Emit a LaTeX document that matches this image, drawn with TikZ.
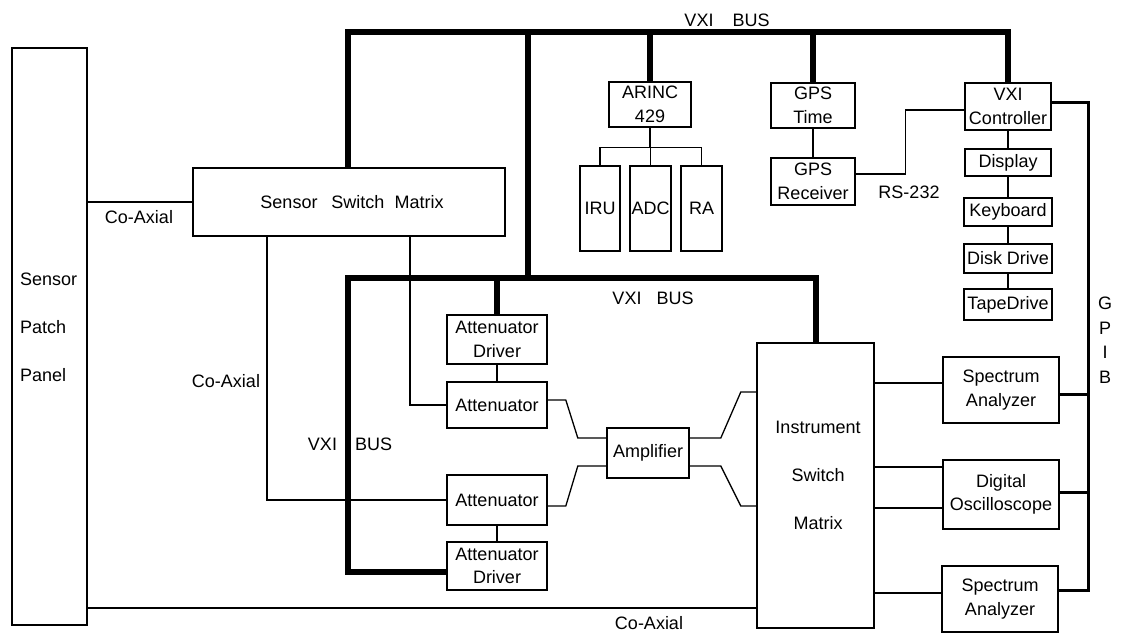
\documentclass[tikz,border=0pt]{standalone}
\usepackage{fontspec}
\setmainfont{Liberation Sans}
\newcommand\dfs{\fontsize{18}{23.5}\selectfont}
\begin{document}
\begin{tikzpicture}[x=1pt,y=-1pt,
  box/.style={draw, line width=1.6pt, inner sep=0pt, align=center, font=\dfs},
  thin/.style={line width=1.3pt},
  bus/.style={line width=6pt},
  gpib/.style={line width=3pt},
  lbl/.style={inner sep=0pt, font=\dfs, align=center}]
\useasboundingbox (0,0) rectangle (1121,634);

% boxes
\node[box, minimum width=75pt, minimum height=577pt] (panel) at (49.5,336.5) {};
\node[lbl, anchor=west, align=left, font=\fontsize{18}{48}\selectfont] (paneltext) at (20,327) {Sensor\\Patch\\Panel};
\node[box, minimum width=312pt, minimum height=68pt] (ssm) at (349,202) {\hspace*{6pt}Sensor\hspace{14pt}Switch\hspace{10pt}Matrix};
\node[box, minimum width=82pt, minimum height=45pt] (arinc) at (650,104.5) {ARINC\\429};
\node[box, minimum width=40pt, minimum height=85pt] (iru) at (600,208.5) {IRU};
\node[box, minimum width=41pt, minimum height=85pt] (adc) at (650.5,208.5) {ADC};
\node[box, minimum width=41pt, minimum height=85pt] (ra) at (701.5,208.5) {RA};
\node[box, minimum width=84pt, minimum height=45pt] (gpst) at (813,105.5) {GPS\\Time};
\node[box, minimum width=84pt, minimum height=47pt] (gpsr) at (813,181.5) {GPS\\Receiver};
\node[box, minimum width=86pt, minimum height=47pt] (vxic) at (1008,106.5) {VXI\\Controller};
\node[box, minimum width=86pt, minimum height=27pt] (disp) at (1008,162.5) {Display};
\node[box, minimum width=88pt, minimum height=28pt] (kb) at (1008,212) {Keyboard};
\node[box, minimum width=88pt, minimum height=29pt] (disk) at (1008,258.5) {Disk Drive};
\node[box, minimum width=88pt, minimum height=31pt] (tape) at (1008,304.5) {TapeDrive};
\node[box, minimum width=100pt, minimum height=49pt] (ad1) at (497,339.5) {Attenuator\\Driver};
\node[box, minimum width=100pt, minimum height=46pt] (att1) at (497,405) {Attenuator};
\node[box, minimum width=100pt, minimum height=50pt] (att2) at (497,500) {Attenuator};
\node[box, minimum width=100pt, minimum height=48pt] (ad2) at (497,566) {Attenuator\\Driver};
\node[box, minimum width=82pt, minimum height=50pt] (amp) at (648,453) {Amplifier};
\node[box, minimum width=117pt, minimum height=285pt] (ism) at (815.5,485.5) {};
\node[lbl, font=\fontsize{18}{48}\selectfont] (ismtext) at (818,475) {Instrument\\Switch\\Matrix};
\node[box, minimum width=116pt, minimum height=66pt] (sa1) at (1001,390) {Spectrum\\Analyzer};
\node[box, minimum width=116pt, minimum height=69pt] (dso) at (1001,494.5) {Digital\\Oscilloscope};
\node[box, minimum width=116pt, minimum height=66pt] (sa2) at (1000,599) {Spectrum\\Analyzer};

% labels
\node[lbl] (lvxitop) at (727,20) {VXI\hspace{19pt}BUS};
\node[lbl] (lvxiin) at (653,298) {VXI\hspace{15pt}BUS};
\node[lbl] (lvxiv) at (350,444) {VXI\hspace{18pt}BUS};
\node[lbl] (lcoax1) at (139,217) {Co-Axial};
\node[lbl] (lcoax2) at (226,381) {Co-Axial};
\node[lbl] (lcoax3) at (649,623) {Co-Axial};
\node[lbl] (lrs) at (909,192) {RS-232};
\node[lbl, font=\fontsize{18}{24.5}\selectfont] (lgpib) at (1105,340) {G\\P\\I\\B};

% bus coordinates
\coordinate (tb) at (528,32);
\coordinate (ib) at (348,278);

% VXI buses
\draw[bus] (ssm.north -| ib) -- (ib |- tb) -| (vxic.north);
\draw[bus] (tb) -- (tb |- ib);
\draw[bus] (arinc.north) -- (arinc.north |- tb);
\draw[bus] (gpst.north) -- (gpst.north |- tb);
\draw[bus] ([yshift=-6pt]ad2.west) -| (ib) -| (ism.north);
\draw[bus] (ad1.north) -- (ad1.north |- ib);

% thin connectors
\draw[thin] (panel.east |- ssm.west) -- (ssm.west);
\draw[thin] ([xshift=61pt]ssm.south) |- (att1.west);
\draw[thin] ([xshift=-82pt]ssm.south) |- (att2.west);
\draw[thin] (ad1.south) -- (att1.north);
\draw[thin] (att2.south) -- (ad2.north);
\draw[thin] ([yshift=5pt]att1.east) -- ++(18,0) -- ++(12,38) -- ([yshift=15pt]amp.west);
\draw[thin] ([yshift=-6pt]att2.east) -- ++(18,0) -- ++(12,-40) -- ([yshift=-13pt]amp.west);
\draw[thin] ([yshift=15pt]amp.east) -- ++(31,0) -- ++(20,-46) -- ([yshift=93.5pt]ism.west);
\draw[thin] ([yshift=-13pt]amp.east) -- ++(31,0) -- ++(20,40) -- ([yshift=-20.5pt]ism.west);
\coordinate (cx3) at ([yshift=-122.5pt]ism.west);
\draw[thin] (cx3) -- (cx3 -| panel.east);
\coordinate (s1) at ([yshift=7pt]sa1.west);
\coordinate (d1) at ([yshift=27.5pt]dso.west);
\coordinate (d2) at ([yshift=-13.5pt]dso.west);
\coordinate (s2) at ([yshift=6pt]sa2.west);
\draw[thin] (s1) -- (s1 -| ism.east);
\draw[thin] (d1) -- (d1 -| ism.east);
\draw[thin] (d2) -- (d2 -| ism.east);
\draw[thin] (s2) -- (s2 -| ism.east);

% ARINC tree
\draw[thin] (arinc.south) -- ++(0,20) coordinate (at);
\draw[thin] (iru.north) |- (at) -| (ra.north);
\draw[thin] (adc.north) -- (adc.north |- at);

% GPS and controller chain
\draw[thin] (gpst.south) -- (gpsr.north);
\coordinate (r0) at ([yshift=7.5pt]gpsr.east);
\coordinate (r1) at ([yshift=-3.5pt]vxic.west);
\draw[thin] (r0) -- ++(50,0) |- (r1);
\draw[thin] (vxic.south) -- (disp.north);
\draw[thin] (disp.south) -- (kb.north);
\draw[thin] (kb.south) -- (disk.north);
\draw[thin] (disk.south) -- (tape.north);

% GPIB
\coordinate (gx) at (1088,0);
\coordinate (g0) at ([yshift=4.5pt]vxic.east);
\coordinate (g1) at ([yshift=-4pt]sa1.east);
\coordinate (g2) at ([yshift=2.5pt]dso.east);
\coordinate (g3) at ([yshift=9pt]sa2.east);
\draw[gpib] (g0) -- (g0 -| gx) -- (gx |- g3) -- (g3);
\draw[gpib] (g1) -- (g1 -| gx);
\draw[gpib] (g2) -- (g2 -| gx);
\end{tikzpicture}
\end{document}
